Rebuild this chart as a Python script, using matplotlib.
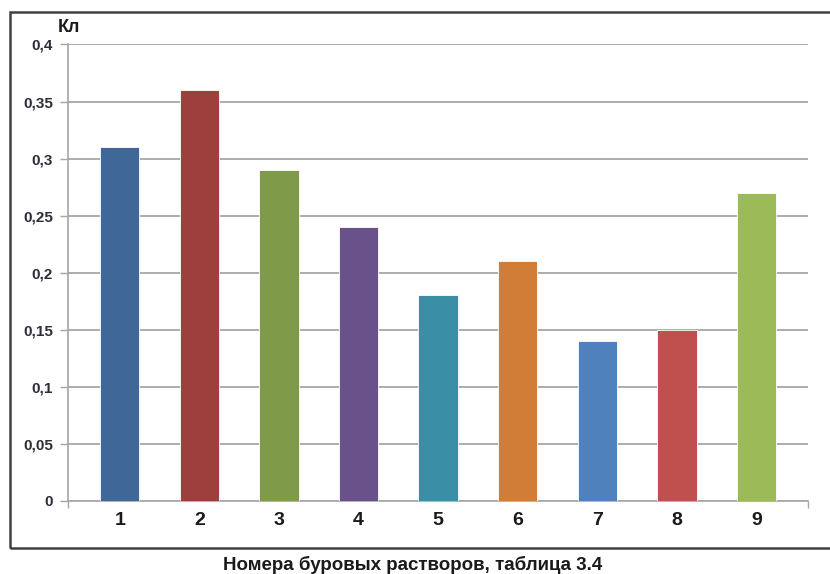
import matplotlib
matplotlib.use("Agg")
import matplotlib.pyplot as plt
from matplotlib.patches import Rectangle

# коэффициент Кл для каждого бурового раствора
solutions = ["1", "2", "3", "4", "5", "6", "7", "8", "9"]
k_values = [0.31, 0.36, 0.29, 0.24, 0.18, 0.21, 0.14, 0.15, 0.27]
bar_colors = ["#3F6899", "#9C3F3D", "#7F9A49", "#69528A", "#3A8EA5",
              "#D17C37", "#4F81BD", "#C0504D", "#9BBB59"]
y_ticks = [0, 0.05, 0.1, 0.15, 0.2, 0.25, 0.3, 0.35, 0.4]
y_labels = ["0", "0,05", "0,1", "0,15", "0,2", "0,25", "0,3", "0,35", "0,4"]

fig = plt.figure(figsize=(8.3, 5.74), dpi=100)
ax = fig.add_axes([0.0823, 0.1277, 0.8908, 0.7948])

x = list(range(1, len(solutions) + 1))
ax.bar(x, k_values, width=0.494, color=bar_colors, edgecolor="#FFFFFF",
       linewidth=0.6, zorder=3)

ax.set_xlim(0.354, 9.643)
ax.set_ylim(0, 0.4)

ax.set_yticks(y_ticks)
ax.set_yticklabels(y_labels, fontsize=11, color="#2E2E3A",
                   family="Liberation Sans", fontweight="bold")
ax.yaxis.grid(True, color="#A6A6A6", linewidth=1.3, zorder=0)
ax.tick_params(axis="y", length=6, width=1, color="#A6A6A6", pad=5)

ax.set_xticks(x)
ax.set_xticklabels(solutions, fontsize=14, fontweight="bold",
                   family="Liberation Sans", color="#1A1A1A")
ax.tick_params(axis="x", length=0, pad=8)
# засечки только на краях оси категорий
ax.set_xticks([0.354, 9.643], minor=True)
ax.tick_params(axis="x", which="minor", length=5, width=1, color="#A6A6A6")

for side in ["top", "right"]:
    ax.spines[side].set_visible(False)
for side in ["left", "bottom"]:
    ax.spines[side].set_color("#A6A6A6")
    ax.spines[side].set_linewidth(1.2)

fig.text(0.070, 0.945, "Кл", fontsize=13, fontweight="bold",
         family="Liberation Sans", color="#1A1A1A")

# рамка области диаграммы
fig.patches.append(Rectangle((0.012, 0.0453), 1.2, 0.9338,
                             transform=fig.transFigure, fill=False,
                             edgecolor="#404040", linewidth=1.8))

fig.text(0.4976, 0.007, "Номера буровых растворов, таблица 3.4",
         ha="center", fontsize=13.5, fontweight="bold",
         family="Liberation Sans", color="#1A1A1A")

fig.savefig("out.png", dpi=100)
